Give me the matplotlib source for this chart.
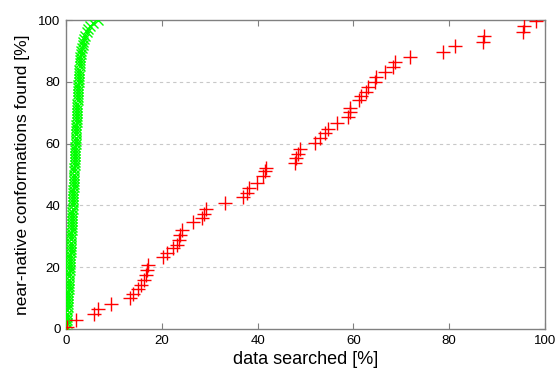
import matplotlib
matplotlib.use("Agg")
import matplotlib.pyplot as plt

# Red series (data searched %, near-native found %)
red_x = [0.2, 2.1, 5.8, 6.6, 9.3, 13.3, 13.9, 15.0, 15.7, 16.2, 16.7, 17.0, 17.2,
         20.2, 21.0, 22.3, 23.1, 23.6, 23.9, 24.3, 26.6, 28.3, 28.8, 29.3, 33.2,
         37.0, 37.7, 38.2, 39.8, 41.1, 41.5, 41.8, 47.8, 48.0, 48.5, 48.9, 52.0,
         53.0, 54.1, 54.8, 56.6, 58.9, 59.2, 59.3, 61.2, 61.5, 62.6, 63.1, 64.5,
         64.7, 66.6, 68.2, 68.7, 71.9, 78.8, 81.3, 87.1, 87.3, 95.3, 95.6, 98.2]
red_y = [0.5, 3.0, 5.0, 6.6, 8.1, 9.9, 11.3, 12.9, 14.3, 15.9, 17.5, 19.1, 20.7,
         23.2, 24.5, 26.1, 27.2, 28.8, 30.3, 32.1, 34.5, 35.9, 37.3, 38.8, 40.9,
         42.6, 44.0, 45.5, 47.3, 49.4, 51.0, 52.2, 53.9, 55.3, 56.7, 58.4, 60.3,
         61.7, 63.3, 64.9, 66.8, 68.7, 70.3, 71.7, 74.1, 75.3, 76.8, 78.2, 80.1,
         81.7, 83.3, 84.9, 86.5, 88.2, 89.8, 91.6, 93.0, 94.8, 96.2, 98.1, 99.8]

# Green series
green_y = list(range(0, 101))
green_x = [0.00, 0.06, 0.12, 0.17, 0.21, 0.25, 0.29, 0.33, 0.37, 0.40, 0.44,
           0.47, 0.50, 0.53, 0.56, 0.60, 0.64, 0.68, 0.72, 0.76, 0.80,
           0.83, 0.86, 0.89, 0.92, 0.95, 0.98, 1.01, 1.04, 1.07, 1.10,
           1.13, 1.16, 1.19, 1.22, 1.25, 1.28, 1.31, 1.34, 1.37, 1.40,
           1.43, 1.46, 1.49, 1.52, 1.55, 1.58, 1.61, 1.64, 1.67, 1.70,
           1.73, 1.76, 1.79, 1.82, 1.85, 1.88, 1.91, 1.94, 1.97, 2.00,
           2.03, 2.06, 2.09, 2.12, 2.15, 2.18, 2.21, 2.24, 2.27, 2.30,
           2.33, 2.36, 2.39, 2.42, 2.45, 2.48, 2.51, 2.55, 2.59, 2.63,
           2.67, 2.71, 2.75, 2.79, 2.84, 2.90, 2.96, 3.03, 3.11, 3.20,
           3.32, 3.46, 3.62, 3.82, 4.05, 4.30, 4.60, 5.00, 5.60, 6.70]

ticks = [0, 20, 40, 60, 80, 100]

plt.rcParams['font.family'] = ['Liberation Sans', 'DejaVu Sans']

fig = plt.figure(figsize=(5.59, 3.73), dpi=100)
ax = fig.add_axes([0.118, 0.118, 0.857, 0.828])

ax.plot(green_x, green_y, linestyle='none', marker='x', color='#00ff00',
        markersize=7.5, markeredgewidth=1.0, zorder=3)
ax.plot(red_x, red_y, linestyle='none', marker='+', color='#ff0000',
        markersize=10, markeredgewidth=1.0, zorder=3)

ax.set_xlim(0, 100)
ax.set_ylim(0, 100)
ax.set_xticks(ticks)
ax.set_yticks(ticks)
ax.tick_params(direction='in', length=4, width=0.8, color='#808080',
               top=True, right=True, labelsize=9.5, pad=4)
for s in ax.spines.values():
    s.set_color('#808080')
    s.set_linewidth(1.0)

for t in ticks[1:-1]:
    ax.axhline(t, color='#c8c8c8', linestyle=(0, (3, 3)), linewidth=0.8, zorder=1)

ax.set_xlabel('data searched [%]', fontsize=13, labelpad=3)
ax.set_ylabel('near-native conformations found [%]', fontsize=12.5, labelpad=6)

fig.savefig('out.png', dpi=100)
